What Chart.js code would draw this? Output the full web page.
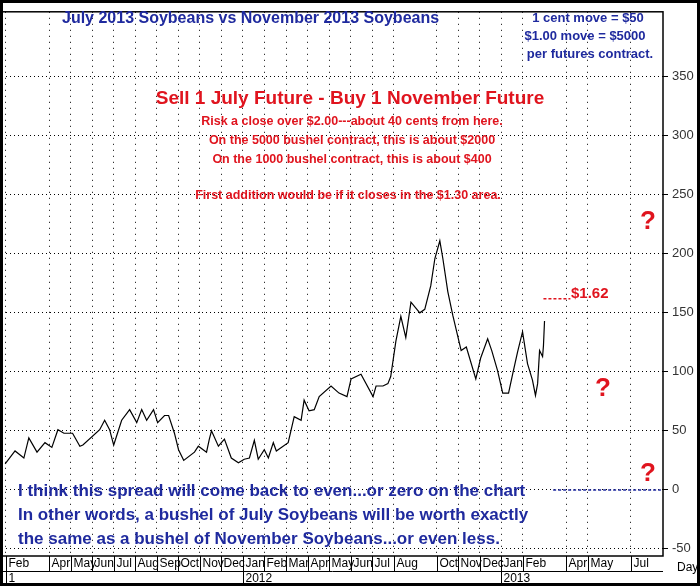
<!DOCTYPE html>
<html><head><meta charset="utf-8">
<script src="https://cdn.jsdelivr.net/npm/chart.js@4"></script>
<style>
html,body{margin:0;padding:0;background:#fff;}
#wrap{width:700px;height:586px;position:relative;}
</style></head>
<body><div id="wrap"><canvas id="spread" width="700" height="586"></canvas></div>
<script>
// months counted from Feb 2011 (0)
const months = [-0.04,0.42,0.83,1.06,1.44,1.81,2.13,2.41,2.69,3.09,3.43,3.57,4.35,4.58,4.81,5.0,5.37,5.74,6.07,6.30,6.53,6.85,7.04,7.36,7.55,7.82,8.01,8.25,8.75,8.93,9.31,9.44,9.54,9.86,10.14,10.46,10.79,11.06,11.30,11.53,11.71,11.99,12.18,12.41,12.55,13.10,13.38,13.70,13.84,14.07,14.31,14.54,15.09,15.46,15.83,16.02,16.48,17.04,17.18,17.50,17.73,17.86,18.10,18.33,18.56,18.80,19.21,19.44,19.72,19.91,20.14,20.28,20.51,20.74,21.13,21.37,21.81,22.04,22.36,22.55,22.82,23.06,23.33,23.52,23.75,23.98,24.21,24.44,24.58,24.68,24.77,24.91,24.95,25.0];
const spread = [22,33,27,44,32,40,36,51,48,48,37,38,51,59,51,38,59,68,57,68,59,68,57,63,63,48,34,25,32,37,32,43,50,37,43,27,23,26,27,42,26,34,27,40,33,40,62,59,76,67,68,79,88,82,79,94,98,79,88,88,90,96,126,147,129,159,150,153,173,196,211,196,168,148,118,121,94,112,128,118,101,82,82,98,117,134,107,93,80,90,118,113,122,143,126,143,157,173,178,163];
const monthTicks = [0,2,3,4,5,6,7,8,9,10,11,12,13,14,15,16,17,18,20,21,22,23,24,26,27,29];
const monthLabels = ['Feb','Apr','May','Jun','Jul','Aug','Sep','Oct','Nov','Dec','Jan','Feb','Mar','Apr','May','Jun','Jul','Aug','Oct','Nov','Dec','Jan','Feb','Apr','May','Jul'];
const yearTicks = [[0,'1'],[11,'2012'],[23,'2013']];
const yTicks = [-50,0,50,100,150,200,250,300,350];

const blue = '#1f2a9e', red = '#e0141e';

const points = months.map((m, i) => ({x: m, y: spread[i]}));

const notes = {
  id: 'notes',
  afterDraw(chart) {
    const ctx = chart.ctx, xs = chart.scales.x, a = chart.chartArea;
    ctx.save();
    // bottom axis
    ctx.strokeStyle = '#000'; ctx.lineWidth = 1;
    ctx.beginPath();
    ctx.moveTo(a.left, a.bottom + 15.5); ctx.lineTo(a.right, a.bottom + 15.5);
    ctx.stroke();
    ctx.font = '12px "Liberation Sans", Arial';
    ctx.fillStyle = '#000'; ctx.textBaseline = 'middle'; ctx.textAlign = 'left';
    monthTicks.forEach((m, i) => {
      const x = Math.round(xs.getPixelForValue(m)) + 0.5;
      ctx.beginPath(); ctx.moveTo(x, a.bottom); ctx.lineTo(x, a.bottom + 15); ctx.stroke();
      ctx.fillText(monthLabels[i], x + 2, a.bottom + 8);
    });
    yearTicks.forEach(([m, t]) => {
      const x = Math.round(xs.getPixelForValue(m)) + 0.5;
      ctx.beginPath(); ctx.moveTo(x, a.bottom + 15); ctx.lineTo(x, a.bottom + 30); ctx.stroke();
      ctx.fillText(t, x + 2, a.bottom + 23);
    });
    ctx.fillText('Day', a.right + 14, a.bottom + 12);
    // frame
    ctx.lineWidth = 3; ctx.strokeRect(1.5, 1.5, 697, 583);
    ctx.lineWidth = 1.5; ctx.strokeRect(a.left, a.top, a.right - a.left, a.bottom - a.top);

    ctx.textBaseline = 'alphabetic';
    ctx.fillStyle = blue;
    ctx.font = 'bold 16px "Liberation Sans", Arial';
    ctx.fillText('July 2013 Soybeans vs November 2013 Soybeans', 62, 23);
    ctx.textAlign = 'center';
    ctx.font = 'bold 13px "Liberation Sans", Arial';
    ctx.fillText('1 cent move = $50', 588, 22);
    ctx.fillText('$1.00 move = $5000', 585, 40);
    ctx.fillText('per futures contract.', 590, 58);
    ctx.font = 'bold 17px "Liberation Sans", Arial';
    ctx.textAlign = 'left';
    ctx.fillText('I think this spread will come back to even...or zero on the chart', 18, 496);
    ctx.fillText('In other words, a bushel of July Soybeans will be worth exactly', 18, 520);
    ctx.fillText('the same as a bushel of November Soybeans...or even less.', 18, 544);

    ctx.fillStyle = red; ctx.textAlign = 'center';
    ctx.font = 'bold 19px "Liberation Sans", Arial';
    ctx.fillText('Sell 1 July Future - Buy 1 November Future', 350, 104);
    ctx.font = 'bold 12.5px "Liberation Sans", Arial';
    ctx.fillText('Risk a close over $2.00---about 40 cents from here.', 352, 125);
    ctx.fillText('On the 5000 bushel contract, this is about $2000', 352, 144);
    ctx.fillText('On the 1000 bushel contract, this is about $400', 352, 163);
    ctx.fillText('First addition would be if it closes in the $1.30 area.', 348, 199);
    ctx.font = 'bold 26px "Liberation Sans", Arial';
    ctx.fillText('?', 648, 229);
    ctx.fillText('?', 603, 396);
    ctx.fillText('?', 648, 481);
    ctx.textAlign = 'left';
    ctx.font = 'bold 15px "Liberation Sans", Arial';
    ctx.fillText('$1.62', 571, 298);
    ctx.restore();
  }
};

new Chart(document.getElementById('spread'), {
  type: 'scatter',
  data: {
    datasets: [
      {data: points, showLine: true, borderColor: '#000', borderWidth: 1.2, pointRadius: 0, tension: 0},
      {data: [{x: 24.95, y: 162}, {x: 26.2, y: 162}], showLine: true, borderColor: red, borderWidth: 1.5, borderDash: [3, 2], pointRadius: 0},
      {data: [{x: 25.4, y: 0}, {x: 30.4, y: 0}], showLine: true, borderColor: blue, borderWidth: 1.5, borderDash: [3, 2], pointRadius: 0}
    ]
  },
  options: {
    responsive: false, animation: false,
    devicePixelRatio: 1,
    layout: {padding: {left: 2, top: 2, right: 0, bottom: 30}},
    plugins: {legend: {display: false}, tooltip: {enabled: false}},
    scales: {
      x: {
        type: 'linear', min: -0.185, max: 30.5,
        afterBuildTicks: s => { s.ticks = monthTicks.map(v => ({value: v})); },
        ticks: {display: false},
        grid: {color: '#000', lineWidth: 1, drawTicks: false},
        border: {display: false, dash: [1, 5]}
      },
      y: {
        position: 'right', min: -56, max: 405,
        afterBuildTicks: s => { s.ticks = yTicks.map(v => ({value: v})); },
        afterFit: s => { s.width = 37; },
        ticks: {color: '#333', font: {family: '"Liberation Sans", Arial', size: 13}, padding: 4},
        grid: {color: '#000', lineWidth: 1, tickLength: 5},
        border: {display: false, dash: [1, 3]}
      }
    }
  },
  plugins: [notes]
});
</script>
</body></html>
